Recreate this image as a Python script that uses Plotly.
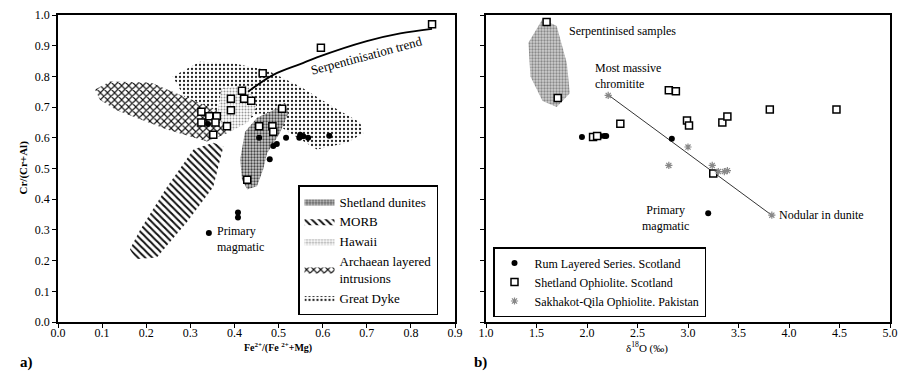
import plotly.graph_objects as go

FONT = "Liberation Serif, Times New Roman, DejaVu Serif, serif"

# ---------------- Panel a data ----------------
shet_a_x = [0.848, 0.596, 0.464, 0.417, 0.422, 0.438, 0.392, 0.392, 0.508, 0.325, 0.325, 0.343,
            0.360, 0.357, 0.352, 0.383, 0.456, 0.486, 0.488, 0.429]
shet_a_y = [0.970, 0.893, 0.810, 0.753, 0.727, 0.721, 0.727, 0.690, 0.695, 0.685, 0.650, 0.670,
            0.670, 0.650, 0.610, 0.638, 0.638, 0.638, 0.620, 0.463]
rum_a_x = [0.456, 0.496, 0.488, 0.517, 0.547, 0.549, 0.567, 0.615, 0.480, 0.340, 0.348, 0.408, 0.408, 0.342, 0.556]
rum_a_y = [0.600, 0.580, 0.573, 0.600, 0.600, 0.610, 0.600, 0.607, 0.530, 0.645, 0.607, 0.357, 0.340, 0.290, 0.605]

trend_a_x = [0.431, 0.488, 0.549, 0.587, 0.700, 0.776, 0.848]
trend_a_y = [0.750, 0.805, 0.840, 0.862, 0.915, 0.940, 0.955]

arch_x = [0.084, 0.118, 0.210, 0.284, 0.360, 0.383, 0.338, 0.247, 0.133, 0.095, 0.084]
arch_y = [0.757, 0.783, 0.780, 0.735, 0.690, 0.615, 0.588, 0.627, 0.690, 0.724, 0.757]
dyke_x = [0.260, 0.322, 0.397, 0.474, 0.549, 0.624, 0.685, 0.692, 0.655, 0.587, 0.526, 0.458, 0.397, 0.290, 0.260]
dyke_y = [0.800, 0.848, 0.843, 0.820, 0.767, 0.700, 0.650, 0.615, 0.584, 0.562, 0.616, 0.680, 0.636, 0.724, 0.800]
hawaii_x = [0.370, 0.430, 0.450, 0.430, 0.390, 0.360, 0.370]
hawaii_y = [0.760, 0.770, 0.700, 0.650, 0.620, 0.660, 0.760]
morb_x = [0.167, 0.178, 0.224, 0.292, 0.352, 0.375, 0.352, 0.307, 0.247, 0.186, 0.163, 0.167]
morb_y = [0.227, 0.205, 0.210, 0.325, 0.440, 0.572, 0.584, 0.562, 0.440, 0.300, 0.237, 0.227]
dun_x = [0.515, 0.488, 0.451, 0.424, 0.413, 0.417, 0.429, 0.451, 0.465, 0.474, 0.503, 0.522, 0.515]
dun_y = [0.714, 0.690, 0.665, 0.620, 0.530, 0.464, 0.432, 0.442, 0.497, 0.550, 0.616, 0.680, 0.714]

# ---------------- Panel b data ----------------
shet_b_x = [1.60, 1.71, 2.06, 2.10, 2.33, 2.81, 2.88, 2.99, 3.01, 3.34, 3.39, 3.81, 4.47, 3.25]
shet_b_y = [0.977, 0.730, 0.603, 0.606, 0.646, 0.755, 0.752, 0.656, 0.640, 0.650, 0.669, 0.692, 0.692, 0.484]
rum_b_x = [1.95, 2.13, 2.17, 2.19, 2.84, 3.20]
rum_b_y = [0.603, 0.606, 0.606, 0.606, 0.597, 0.354]
sak_b_x = [2.21, 3.00, 2.81, 3.24, 3.30, 3.36, 3.39, 3.83]
sak_b_y = [0.738, 0.570, 0.510, 0.510, 0.490, 0.490, 0.493, 0.348]
line_b_x = [2.23, 3.82]
line_b_y = [0.735, 0.350]
serp_x = [1.56, 1.42, 1.44, 1.56, 1.70, 1.83, 1.80, 1.70, 1.56]
serp_y = [0.987, 0.910, 0.800, 0.720, 0.700, 0.745, 0.844, 0.964, 0.987]

x_a_ticks = [0.0, 0.1, 0.2, 0.3, 0.4, 0.5, 0.6, 0.7, 0.8, 0.9]
x_b_ticks = [1.0, 1.5, 2.0, 2.5, 3.0, 3.5, 4.0, 4.5, 5.0]
y_ticks = [0.0, 0.1, 0.2, 0.3, 0.4, 0.5, 0.6, 0.7, 0.8, 0.9, 1.0]

# body margin removed by post_script, so window pixels map directly to paper
W, H, OFF = 900, 383, 0
def PX(p):
    return (p - OFF) / W
def PY(p):
    return 1 - (p - OFF) / H

fig = go.Figure()

def region(x, y, name, shape, size, sol, fg, bg="white"):
    fig.add_trace(go.Scatter(
        x=x, y=y, mode="lines", fill="toself", name=name, line=dict(width=0, color=fg),
        fillcolor=bg,
        fillpattern=dict(shape=shape, size=size, solidity=sol, fgcolor=fg, bgcolor=bg, fillmode="replace"),
        xaxis="x", yaxis="y", legend="legend"))

region(dyke_x, dyke_y, "Great Dyke", ".", 4, 0.25, "#222222")
region(arch_x, arch_y, "Archaean layered<br>intrusions", "x", 5, 0.4, "#111111")
region(hawaii_x, hawaii_y, "Hawaii", ".", 3, 0.35, "#999999")
region(morb_x, morb_y, "MORB", "\\", 5, 0.4, "#111111")
region(dun_x, dun_y, "Shetland dunites", ".", 3, 0.45, "#444444", "#cfcfcf")

fig.add_trace(go.Scatter(x=trend_a_x, y=trend_a_y, mode="lines", line=dict(color="black", width=1.8, shape="spline"),
                         showlegend=False, xaxis="x", yaxis="y"))
fig.add_trace(go.Scatter(x=rum_a_x, y=rum_a_y, mode="markers", marker=dict(symbol="circle", size=6, color="black"),
                         showlegend=False, xaxis="x", yaxis="y"))
fig.add_trace(go.Scatter(x=shet_a_x, y=shet_a_y, mode="markers",
                         marker=dict(symbol="square", size=7, color="white", line=dict(color="black", width=1.5)),
                         showlegend=False, xaxis="x", yaxis="y"))

# Panel b
fig.add_trace(go.Scatter(x=serp_x, y=serp_y, mode="lines", fill="toself", line=dict(width=0, color="#444444"),
                         fillcolor="#cfcfcf",
                         fillpattern=dict(shape=".", size=3, solidity=0.45, fgcolor="#444444", bgcolor="#cfcfcf"),
                         showlegend=False, xaxis="x2", yaxis="y2"))
fig.add_trace(go.Scatter(x=line_b_x, y=line_b_y, mode="lines", line=dict(color="black", width=0.8),
                         showlegend=False, xaxis="x2", yaxis="y2"))
fig.add_trace(go.Scatter(x=rum_b_x, y=rum_b_y, mode="markers", name="Rum Layered Series. Scotland",
                         marker=dict(symbol="circle", size=6, color="black"),
                         xaxis="x2", yaxis="y2", legend="legend2"))
fig.add_trace(go.Scatter(x=shet_b_x, y=shet_b_y, mode="markers", name="Shetland Ophiolite. Scotland",
                         marker=dict(symbol="square", size=7, color="white", line=dict(color="black", width=1.5)),
                         xaxis="x2", yaxis="y2", legend="legend2"))
fig.add_trace(go.Scatter(x=sak_b_x, y=sak_b_y, mode="markers", name="Sakhakot-Qila Ophiolite. Pakistan",
                         marker=dict(symbol="asterisk-open", size=6, color="#888888", line=dict(color="#888888", width=1.2)),
                         xaxis="x2", yaxis="y2", legend="legend2"))

ydom = [PY(322), PY(15)]
axis_common = dict(showline=True, linecolor="black", linewidth=1.5, mirror=True, ticks="outside",
                   ticklen=4, tickcolor="black", showgrid=False, zeroline=False, automargin=False,
                   tickfont=dict(family=FONT, size=12, color="black"))

fig.update_layout(
    width=W, height=H, margin=dict(l=0, r=0, t=0, b=0),
    paper_bgcolor="white", plot_bgcolor="white",
    font=dict(family=FONT, size=12, color="black"),
    xaxis=dict(domain=[PX(58), PX(455)], range=[0, 0.9], tickvals=x_a_ticks,
               ticktext=[f"{v:.1f}" for v in x_a_ticks], anchor="y", ticklabelstandoff=-5, **axis_common),
    yaxis=dict(domain=ydom, range=[0, 1.0], tickvals=y_ticks,
               ticktext=[f"{v:.1f}" for v in y_ticks], anchor="x", **axis_common),
    xaxis2=dict(domain=[PX(486), PX(890)], range=[1.0, 5.0], tickvals=x_b_ticks,
                ticktext=[f"{v:.1f}" for v in x_b_ticks], anchor="y2", ticklabelstandoff=-5, **axis_common),
    yaxis2=dict(domain=ydom, range=[0, 1.0], tickvals=y_ticks, showticklabels=False, anchor="x2", **axis_common),
    legend=dict(x=PX(298), y=PY(185), xanchor="left", yanchor="top", bgcolor="white",
                bordercolor="black", borderwidth=1.5, font=dict(family=FONT, size=13),
                traceorder="reversed", itemwidth=30, tracegroupgap=0),
    legend2=dict(x=PX(493), y=PY(247), xanchor="left", yanchor="top", bgcolor="white",
                 bordercolor="black", borderwidth=1.5, font=dict(family=FONT, size=12), itemwidth=30),
)

ann = [
    dict(x=0.70, y=0.868, xref="x", yref="y", text="Serpentinisation trend", textangle=-15, showarrow=False,
         font=dict(size=13)),
    dict(x=0.356, y=0.272, xref="x", yref="y", text="Primary<br>magmatic", showarrow=False, xanchor="left",
         align="left", font=dict(size=12)),
    dict(x=1.80, y=0.947, xref="x2", yref="y2", text="Serpentinised samples", showarrow=False, xanchor="left",
         font=dict(size=12)),
    dict(x=2.06, y=0.80, xref="x2", yref="y2", text="Most massive<br>chromitite", showarrow=False, xanchor="left",
         align="left", font=dict(size=12)),
    dict(x=3.03, y=0.34, xref="x2", yref="y2", text="Primary<br>magmatic", showarrow=False, xanchor="right",
         align="center", font=dict(size=12)),
    dict(x=3.88, y=0.348, xref="x2", yref="y2", text="Nodular in dunite", showarrow=False, xanchor="left",
         font=dict(size=12)),
    dict(x=PX(14), y=PY(168), xref="paper", yref="paper", text="<b>Cr/(Cr+Al)</b>", textangle=-90,
         showarrow=False, font=dict(size=11)),
    dict(x=PX(242), y=PY(356), xref="paper", yref="paper", text="<b>Fe<sup>2+</sup>/(Fe <sup>2+</sup>+Mg)</b>",
         showarrow=False, font=dict(size=10)),
    dict(x=PX(670), y=PY(357), xref="paper", yref="paper", text="δ<sup>18</sup>O (‰)",
         showarrow=False, font=dict(size=11)),
    dict(x=PX(18), y=PY(373), xref="paper", yref="paper", text="<b>a)</b>", showarrow=False,
         font=dict(size=15)),
    dict(x=PX(480), y=PY(373), xref="paper", yref="paper", text="<b>b)</b>", showarrow=False,
         font=dict(size=15)),
]
fig.update_layout(annotations=ann, hovermode=False)

fig.write_html("out.html", config={"displayModeBar": False},
               post_script="document.body.style.margin='0';document.body.style.overflow='hidden';")
